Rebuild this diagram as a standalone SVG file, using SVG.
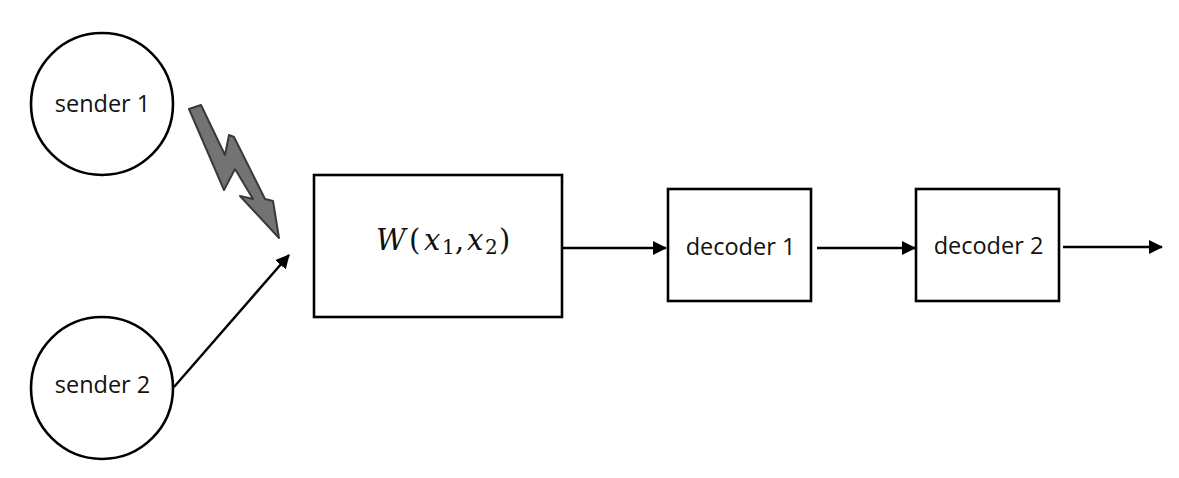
<svg xmlns="http://www.w3.org/2000/svg" width="1179" height="478" viewBox="0 0 1179 478">
<style>
.node{fill:#fff;stroke:#000;stroke-width:2.6}
.lbl{font-family:"Open Sans","Liberation Sans",sans-serif;font-size:23.5px;fill:#111;text-anchor:middle}
.math{font-family:"DejaVu Serif","Liberation Serif",serif;font-size:29px;fill:#111}
.it{font-style:italic}
.sub{font-size:20px}
.edge{stroke:#000;stroke-width:2.4;fill:none}
</style>
<defs>
<marker id="ah" viewBox="0 0 14 14" refX="13" refY="7" markerWidth="14" markerHeight="14" markerUnits="userSpaceOnUse" orient="auto">
<path d="M0,0 L14,7 L0,14 Z" fill="#000"/>
</marker>
</defs>
<rect width="1179" height="478" fill="#fff"/>
<g id="sender1">
<circle class="node" cx="102" cy="104" r="71"/>
<text class="lbl" x="102.5" y="112">sender 1</text>
</g>
<g id="sender2">
<circle class="node" cx="102" cy="388" r="71"/>
<text class="lbl" x="102.5" y="393">sender 2</text>
</g>
<g id="lightning">
<polygon points="189,109 201,105 225,155 229,135 234,137 265,199 273,201 279,238 240,196 253,199 235,169 224,190" fill="#737373" stroke="#3a3a3a" stroke-width="2" stroke-linejoin="round"/>
</g>
<g id="channel">
<rect class="node" x="314" y="175" width="248" height="142"/>
<text class="math"><tspan class="it" x="376" y="250">W</tspan><tspan x="409" y="250">(</tspan><tspan class="it" x="424" y="250">x</tspan><tspan class="sub" x="442" y="254">1</tspan><tspan x="455" y="250">,</tspan><tspan class="it" x="467" y="250">x</tspan><tspan class="sub" x="485" y="254">2</tspan><tspan x="499" y="250">)</tspan></text>
</g>
<g id="decoder1">
<rect class="node" x="668" y="189" width="143" height="112"/>
<text class="lbl" x="740.5" y="255">decoder 1</text>
</g>
<g id="decoder2">
<rect class="node" x="916" y="189" width="143" height="112"/>
<text class="lbl" x="988.5" y="254">decoder 2</text>
</g>
<g id="connectors">
<line class="edge" x1="174" y1="387" x2="289" y2="255" marker-end="url(#ah)"/>
<line class="edge" x1="563" y1="248" x2="666" y2="248" marker-end="url(#ah)"/>
<line class="edge" x1="817" y1="248" x2="915" y2="248" marker-end="url(#ah)"/>
<line class="edge" x1="1063" y1="247" x2="1162" y2="247" marker-end="url(#ah)"/>
</g>
</svg>
